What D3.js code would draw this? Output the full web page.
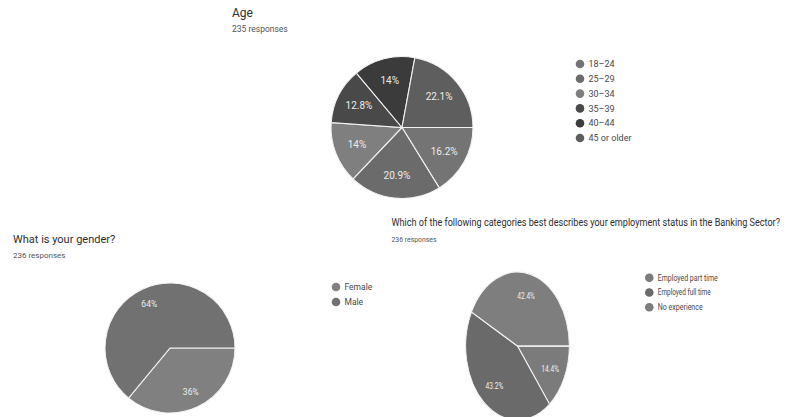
<!DOCTYPE html>
<html>
<head>
<meta charset="utf-8">
<script src="https://cdn.jsdelivr.net/npm/d3@7"></script>
<style>
  html, body { margin: 0; padding: 0; background: #fff; }
  svg { display: block; font-family: Roboto, "Noto Sans", Arial, sans-serif; }
</style>
</head>
<body>
<svg id="chart" width="787" height="417"></svg>
<script>
// Survey answers, in legend order
const ageCategories = ["18–24", "25–29", "30–34", "35–39", "40–44", "45 or older"];
const ageValues = [16.2, 20.9, 14, 12.8, 14, 22.1];
const ageColors = ["#747474", "#6b6b6b", "#7f7f7f", "#494949", "#3b3b3b", "#5e5e5e"];

const genderCategories = ["Female", "Male"];
const genderValues = [36, 64];
const genderColors = ["#808080", "#717171"];

const employmentCategories = ["Employed part time", "Employed full time", "No experience"];
const employmentValues = [14.4, 43.2, 42.4];
const employmentColors = ["#7b7b7b", "#6a6a6a", "#7e7e7e"];

const titles = {
  age: "Age",
  gender: "What is your gender?",
  employment: "Which of the following categories best describes your employment status in the Banking Sector?"
};
const responses = { age: "235 responses", gender: "236 responses", employment: "236 responses" };

const svg = d3.select("#chart");

// Slices run clockwise starting from 3 o'clock
const pie = d3.pie().sort(null)
  .startAngle(Math.PI / 2)
  .endAngle(Math.PI / 2 + 2 * Math.PI);

// Places a text at (x, y) and squeezes it horizontally to the given width
function fitText(parent, x, y, width, str, size, fill, dy) {
  const g = parent.append("g");
  const t = g.append("text").attr("font-size", size).attr("fill", fill).text(str);
  if (dy) t.attr("dy", dy);
  const natural = t.node().getComputedTextLength();
  const k = width ? Math.min(1, width / natural) : 1;
  g.attr("transform", `translate(${x},${y}) scale(${k},1)`);
  return t;
}

function drawPie(opts) {
  const { cats, vals, colors, cx, cy, r, sx, labelSize, labelFrac } = opts;
  const data = cats.map((c, i) => ({ cat: c, value: vals[i], color: colors[i] }));
  const arcs = pie.value(d => d.value)(data);
  const arc = d3.arc().innerRadius(0).outerRadius(r);
  const labelArc = d3.arc().innerRadius(r * labelFrac).outerRadius(r * labelFrac);
  const g = svg.append("g").attr("transform", `translate(${cx},${cy}) scale(${sx},1)`);
  g.selectAll("path.slice").data(arcs).join("path")
    .attr("class", "slice")
    .attr("d", arc)
    .attr("fill", d => d.data.color)
    .attr("stroke", "#f2f2f2")
    .attr("stroke-width", 1.1 / Math.sqrt(sx));
  g.selectAll("text.pct").data(arcs).join("text")
    .attr("class", "pct")
    .attr("transform", d => `translate(${labelArc.centroid(d)})`)
    .attr("text-anchor", "middle")
    .attr("dy", "0.35em")
    .attr("font-size", labelSize)
    .attr("fill", "#ececec")
    .text(d => `${d.data.value}%`);
}

function drawLegend(opts) {
  const { cats, colors, x, y, step, size, lengths } = opts;
  const g = svg.append("g");
  cats.forEach((c, i) => {
    g.append("circle")
      .attr("cx", x).attr("cy", y + i * step).attr("r", 4.3)
      .attr("fill", colors[i]);
    fitText(g, x + 8.5, y + i * step, lengths ? lengths[i] : null, c, size, "#484848", "0.35em");
  });
}

function drawTitle(opts) {
  const { title, sub, x, y, size, subY, subSize, len, subLen } = opts;
  fitText(svg, x, y, len, title, size, "#2e2e2e");
  fitText(svg, x, subY, subLen, sub, subSize, "#555");
}

// Age
drawTitle({ title: titles.age, sub: responses.age, x: 232, y: 17, size: 12,
  subY: 32, subSize: 8.5, subLen: 61 });
drawPie({ cats: ageCategories, vals: ageValues, colors: ageColors,
  cx: 402, cy: 127.5, r: 71, sx: 1, labelSize: 10, labelFrac: 0.68 });
drawLegend({ cats: ageCategories, colors: ageColors, x: 580, y: 64, step: 14.8, size: 9 });

// Gender
drawTitle({ title: titles.gender, sub: responses.gender, x: 13, y: 243, size: 11,
  subY: 258, subSize: 8, subLen: 57 });
drawPie({ cats: genderCategories, vals: genderValues, colors: genderColors,
  cx: 170, cy: 348, r: 65, sx: 1, labelSize: 8.5, labelFrac: 0.75 });
drawLegend({ cats: genderCategories, colors: genderColors, x: 336, y: 287, step: 15, size: 8.5 });

// Employment status
drawTitle({ title: titles.employment, sub: responses.employment, x: 391.5, y: 226, size: 11.5,
  subY: 242.3, subSize: 7, len: 389, subLen: 45 });
drawPie({ cats: employmentCategories, vals: employmentValues, colors: employmentColors,
  cx: 517.5, cy: 346, r: 74, sx: 0.70, labelSize: 9.5, labelFrac: 0.7 });
drawLegend({ cats: employmentCategories, colors: employmentColors, x: 649.3, y: 277.7,
  step: 14.8, size: 8.5, lengths: [60, 53, 45] });
</script>
</body>
</html>
